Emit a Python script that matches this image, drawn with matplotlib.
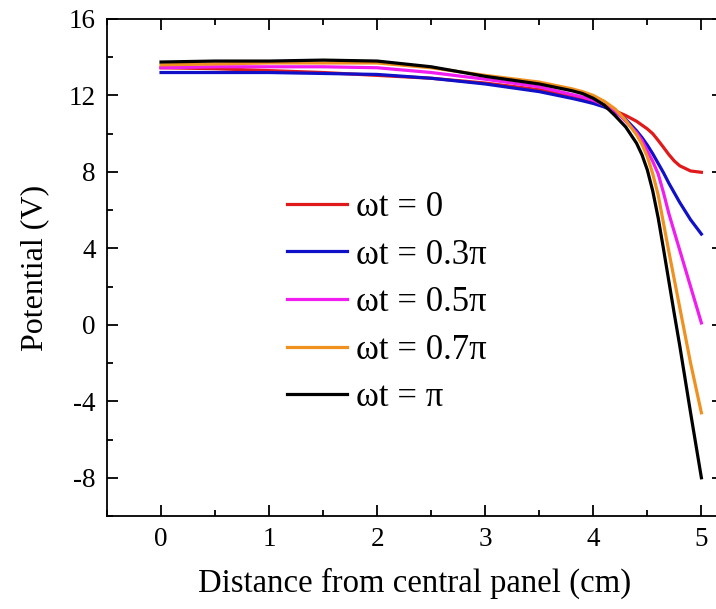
import numpy as np
import matplotlib
matplotlib.use('Agg')
import matplotlib.pyplot as plt
from matplotlib.ticker import MultipleLocator

plt.rcParams['font.family'] = ['Liberation Serif', 'DejaVu Serif']
plt.rcParams['axes.unicode_minus'] = False

# Distance from central panel (cm)
x = [0, 0.5, 1, 1.5, 2, 2.5, 3, 3.5, 3.8, 3.9, 4.0, 4.1, 4.2, 4.3, 4.4, 4.45, 4.5,
     4.55, 4.6, 4.65, 4.7, 4.75, 4.8, 4.9, 5.0]

# Potential (V) for each phase
v_0 = [13.45, 13.4, 13.3, 13.2, 13.05, 12.9, 12.65, 12.3, 12.0, 11.85, 11.7, 11.45, 11.2, 10.95, 10.65, 10.45,
       10.25, 10.0, 9.65, 9.28, 8.9, 8.57, 8.32, 8.05, 7.98]
v_03 = [13.2, 13.2, 13.2, 13.15, 13.1, 12.9, 12.6, 12.2, 11.85, 11.72, 11.58, 11.4, 11.15, 10.75, 10.15, 9.8,
        9.4, 8.95, 8.45, 7.95, 7.4, 6.9, 6.4, 5.5, 4.75]
v_05 = [13.45, 13.5, 13.5, 13.5, 13.45, 13.2, 12.85, 12.45, 12.05, 11.92, 11.75, 11.5, 11.2, 10.65, 10.05, 9.65,
        9.1, 8.55, 7.9, 6.9, 5.8, 4.85, 3.9, 2.0, 0.1]
v_07 = [13.6, 13.65, 13.7, 13.7, 13.7, 13.45, 13.05, 12.7, 12.35, 12.2, 12.0, 11.7, 11.3, 10.7, 9.95, 9.45,
        8.8, 7.9, 6.8, 5.3, 3.8, 2.35, 0.9, -2.0, -4.6]
v_1 = [13.75, 13.8, 13.8, 13.85, 13.8, 13.5, 13.0, 12.6, 12.25, 12.1, 11.85, 11.5, 10.95, 10.35, 9.5, 8.9,
       8.1, 7.0, 5.6, 3.95, 2.25, 0.55, -1.1, -4.6, -8.0]

labels = ['ωt = 0', 'ωt = 0.3π', 'ωt = 0.5π', 'ωt = 0.7π', 'ωt = π']
colors = ['#e01a1a', '#1010c8', '#f01cf0', '#f0901e', '#000000']

fig = plt.figure(figsize=(7.16, 6.09), dpi=100)
ax = fig.add_axes([107/716, 1 - 516/609, 616/716, 497/609])

for v, lab, c in zip([v_0, v_03, v_05, v_07, v_1], labels, colors):
    ax.plot(x, v, color=c, lw=2.3, label=lab, solid_joinstyle='round')

ax.set_xlim(-0.5, 5.2)
ax.set_ylim(-10, 16)
ax.xaxis.set_major_locator(MultipleLocator(1))
ax.xaxis.set_minor_locator(MultipleLocator(0.5))
ax.yaxis.set_major_locator(MultipleLocator(4))
ax.yaxis.set_minor_locator(MultipleLocator(2))
ax.tick_params(which='both', direction='in', top=True, right=True, width=1.3, labelsize=19.5, pad=8)
ax.tick_params(which='major', length=8)
ax.tick_params(which='minor', length=4)
for s in ax.spines.values():
    s.set_linewidth(1.3)

ax.set_xlabel('Distance from central panel (cm)', fontsize=23.6, labelpad=11)
ax.set_ylabel('Potential (V)', fontsize=23, labelpad=14)

ax.legend(loc='upper left', bbox_to_anchor=(0.27, 0.682), frameon=False, fontsize=25,
          handlelength=1.73, handletextpad=0.26, labelspacing=0.42, borderaxespad=0)

fig.savefig('out.png', dpi=100)
